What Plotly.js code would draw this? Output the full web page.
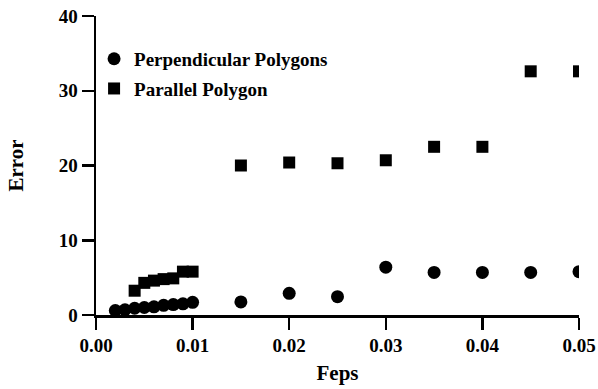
<!DOCTYPE html>
<html>
<head>
<meta charset="utf-8">
<script src="https://cdn.plot.ly/plotly-3.0.1.min.js"></script>
<style>html,body{margin:0;padding:0;background:#fff;}#chart{width:598px;height:389px;}</style>
</head>
<body>
<div id="chart"></div>
<script>
var perpX = [0.002, 0.003, 0.004, 0.005, 0.006, 0.007, 0.008, 0.009, 0.010, 0.015, 0.020, 0.025, 0.030, 0.035, 0.040, 0.045, 0.050];
var perpY = [0.6, 0.7, 0.9, 1.0, 1.1, 1.3, 1.4, 1.5, 1.7, 1.75, 2.9, 2.45, 6.4, 5.7, 5.7, 5.7, 5.8];
var paraX = [0.004, 0.005, 0.006, 0.007, 0.008, 0.009, 0.010, 0.015, 0.020, 0.025, 0.030, 0.035, 0.040, 0.045, 0.050];
var paraY = [3.25, 4.3, 4.6, 4.8, 4.9, 5.8, 5.8, 20.0, 20.4, 20.3, 20.7, 22.5, 22.5, 32.6, 32.6];
var xTicks = [0, 0.01, 0.02, 0.03, 0.04, 0.05];
var xTickText = ['0.00', '0.01', '0.02', '0.03', '0.04', '0.05'];
var yTicks = [0, 10, 20, 30, 40];

var font = 'Liberation Serif, Times New Roman, serif';
var traces = [
  {x: perpX, y: perpY, type: 'scatter', mode: 'markers', name: 'Perpendicular Polygons',
   legendgroup: 'a', marker: {symbol: 'circle', size: 13, color: '#000'}},
  {x: paraX, y: paraY, type: 'scatter', mode: 'markers', name: 'Parallel Polygon',
   legendgroup: 'b', marker: {symbol: 'square', size: 12, color: '#000'}}
];
var layout = {
  width: 598, height: 389,
  margin: {l: 96, r: 19, t: 16, b: 74},
  paper_bgcolor: '#fff', plot_bgcolor: '#fff',
  font: {family: font, color: '#000', size: 19, weight: 'bold'},
  showlegend: true,
  legend: {x: -0.004, y: 0.92, xanchor: 'left', yanchor: 'top', bgcolor: 'rgba(0,0,0,0)',
           font: {family: font, size: 19, weight: 'bold'}, traceorder: 'grouped', tracegroupgap: 2,
           itemwidth: 30},
  xaxis: {range: [0, 0.05], tickvals: xTicks, ticktext: xTickText, showgrid: false, zeroline: false,
          showline: true, linecolor: '#000', linewidth: 2.5, ticks: 'outside', ticklen: 12, tickwidth: 2.5,
          tickcolor: '#000', tickfont: {family: font, size: 19, weight: 'bold'},
          title: {text: 'Feps', font: {family: font, size: 21, weight: 'bold'}, standoff: 10}},
  yaxis: {range: [0, 40], tickvals: yTicks, showgrid: false, zeroline: false,
          showline: true, linecolor: '#000', linewidth: 2.5, ticks: 'outside', ticklen: 12, tickwidth: 2.5,
          tickcolor: '#000', tickfont: {family: font, size: 19, weight: 'bold'},
          title: {text: 'Error', font: {family: font, size: 21, weight: 'bold'}, standoff: 30}}
};
Plotly.newPlot('chart', traces, layout, {displayModeBar: false, staticPlot: true});
</script>
</body>
</html>
